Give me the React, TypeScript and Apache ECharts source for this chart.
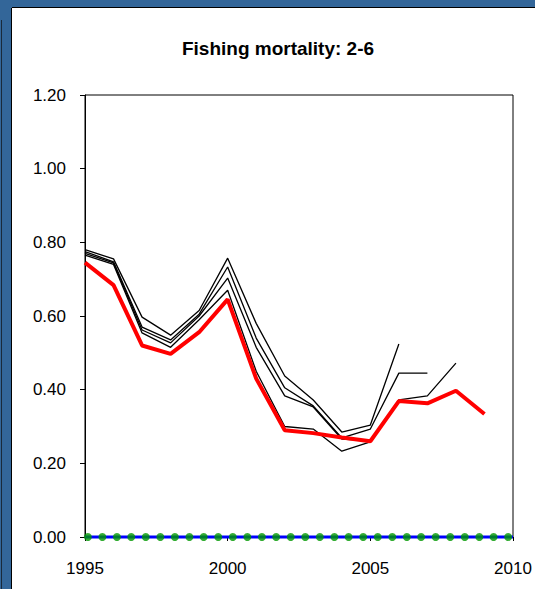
import React, { useEffect, useRef } from "react";
import * as echarts from "echarts";

const years = [1995, 1996, 1997, 1998, 1999, 2000, 2001, 2002, 2003, 2004, 2005, 2006, 2007, 2008, 2009];
const assessA = [0.78, 0.755, 0.597, 0.548, 0.615, 0.757, 0.58, 0.437, 0.372, 0.285, 0.304, 0.524];
const assessB = [0.775, 0.747, 0.57, 0.535, 0.605, 0.733, 0.54, 0.405, 0.356, 0.269, 0.293, 0.445, 0.445];
const assessC = [0.77, 0.744, 0.562, 0.527, 0.6, 0.703, 0.515, 0.383, 0.353, 0.266, 0.262, 0.372, 0.383, 0.472];
const assessD = [0.765, 0.74, 0.554, 0.515, 0.59, 0.67, 0.45, 0.3, 0.293, 0.233, 0.258];
const latest = [0.745, 0.684, 0.52, 0.497, 0.556, 0.645, 0.43, 0.29, 0.282, 0.27, 0.26, 0.369, 0.363, 0.397, 0.334];
const baselineEnds = [1995, 2010];
const dotYears = [
  1995.1, 1995.61, 1996.12, 1996.62, 1997.13, 1997.64, 1998.15, 1998.66, 1999.16, 1999.67,
  2000.18, 2000.69, 2001.2, 2001.7, 2002.21, 2002.72, 2003.23, 2003.74, 2004.24, 2004.75,
  2005.26, 2005.77, 2006.28, 2006.78, 2007.29, 2007.8, 2008.31, 2008.82, 2009.32, 2009.83,
];
const xTicks = { min: 1995, max: 2010, interval: 5 };
const yTicks = { min: 0, max: 1.2, interval: 0.2 };

const FONT = "Liberation Sans, Arial, sans-serif";

function pairs(vals: number[]) {
  return vals.map((v, i) => [years[i], v]);
}

export default function App() {
  const ref = useRef<HTMLDivElement>(null);
  useEffect(() => {
    if (!ref.current) return;
    const chart = echarts.init(ref.current, undefined, { renderer: "svg" });
    const thin = (name: string, vals: number[]) => ({
      name,
      type: "line",
      data: pairs(vals),
      symbol: "none",
      lineStyle: { color: "#000", width: 1.3 },
      z: 3,
    });
    chart.setOption({
      animation: false,
      backgroundColor: "#fff",
      title: {
        text: "Fishing mortality: 2-6",
        left: 273,
        top: 34,
        textAlign: "center",
        textStyle: { fontFamily: FONT, fontSize: 19, fontWeight: "bold", color: "#000" },
      },
      graphic: [
        { type: "rect", shape: { x: 0, y: 0, width: 535, height: 8 }, style: { fill: "#336699" }, z: 100 },
        { type: "rect", shape: { x: 0, y: 0, width: 12, height: 589 }, style: { fill: "#336699" }, z: 100 },
        { type: "line", shape: { x1: 12, y1: 7.5, x2: 535, y2: 7.5 }, style: { stroke: "#000", lineWidth: 1 }, z: 101 },
        { type: "line", shape: { x1: 11.5, y1: 8, x2: 11.5, y2: 589 }, style: { stroke: "#000", lineWidth: 1 }, z: 101 },
        { type: "line", shape: { x1: 1.5, y1: 20, x2: 1.5, y2: 589 }, style: { stroke: "#1a2a3a", lineWidth: 1 }, z: 101 },
      ],
      grid: {
        left: 85,
        top: 95,
        right: 22,
        bottom: 52,
        show: true,
        borderColor: "#000",
        borderWidth: 1,
        backgroundColor: "transparent",
      },
      xAxis: {
        type: "value",
        min: xTicks.min,
        max: xTicks.max,
        interval: xTicks.interval,
        axisLine: { show: true, lineStyle: { color: "#000", width: 1 } },
        axisTick: { show: true, length: 4, lineStyle: { color: "#000" } },
        axisLabel: { color: "#000", fontFamily: FONT, fontSize: 17, margin: 23, formatter: (v: number) => String(v) },
        splitLine: { show: false },
      },
      yAxis: {
        type: "value",
        min: yTicks.min,
        max: yTicks.max,
        interval: yTicks.interval,
        axisLine: { show: true, lineStyle: { color: "#000", width: 1 } },
        axisTick: { show: true, length: 5, lineStyle: { color: "#000" } },
        axisLabel: { color: "#000", fontFamily: FONT, fontSize: 17, margin: 19, formatter: (v: number) => v.toFixed(2) },
        splitLine: { show: false },
      },
      series: [
        thin("Assessment A", assessA),
        thin("Assessment B", assessB),
        thin("Assessment C", assessC),
        thin("Assessment D", assessD),
        {
          name: "Latest",
          type: "line",
          data: pairs(latest),
          symbol: "none",
          lineStyle: { color: "#ff0000", width: 4 },
          z: 4,
        },
        {
          name: "Baseline",
          type: "line",
          data: baselineEnds.map((x) => [x, 0]),
          symbol: "none",
          lineStyle: { color: "#0000ff", width: 3 },
          clip: false,
          z: 5,
        },
        {
          name: "Dots",
          type: "scatter",
          data: dotYears.map((x) => [x, 0]),
          symbol: "circle",
          symbolSize: 8,
          itemStyle: { color: "#009900" },
          clip: false,
          z: 6,
        },
      ],
    });
    return () => chart.dispose();
  }, []);
  return (
    <div
      ref={ref}
      style={{ position: "fixed", left: 0, top: 0, width: 535, height: 589, background: "#fff" }}
    />
  );
}
